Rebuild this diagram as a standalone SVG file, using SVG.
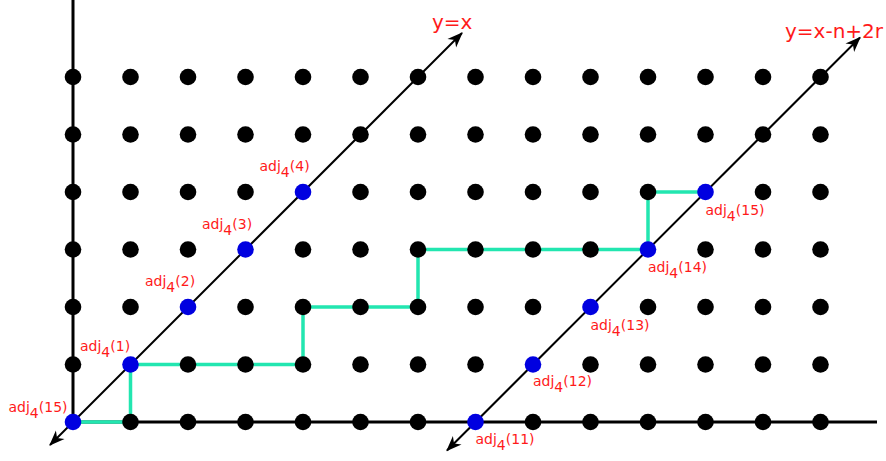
<svg xmlns="http://www.w3.org/2000/svg" width="886" height="461" viewBox="0 0 886 461">
<style>
.ax{stroke:#000;stroke-width:3;fill:none}
.dg{stroke:#000;stroke-width:2;fill:none}
.pth{stroke:#22e6b0;stroke-width:3.5;fill:none}
.d{fill:#000}
.b{fill:#0000e0}
.lb{font-family:"DejaVu Sans",sans-serif;font-size:14px;fill:#ff1a1a}
.tl{font-family:"DejaVu Sans",sans-serif;font-size:20px;fill:#ff1a1a}
</style>
<defs>
<marker id="ah" markerUnits="userSpaceOnUse" markerWidth="20" markerHeight="20" viewBox="-16 -8 18 16" refX="-1" refY="0" orient="auto-start-reverse">
<path d="M0,0 L-14,-5.5 L-10,0 L-14,5.5 z" fill="#000"/>
</marker>
</defs>
<g id="connectors">
<line class="ax" x1="73" y1="0" x2="73" y2="422"/>
<line class="ax" x1="73" y1="422" x2="877" y2="422"/>
<line class="dg" x1="50" y1="445" x2="462" y2="33" marker-start="url(#ah)" marker-end="url(#ah)"/>
<line class="dg" x1="447" y1="450.5" x2="860" y2="37.5" marker-start="url(#ah)" marker-end="url(#ah)"/>
<polyline class="pth" points="73,422 130.5,422 130.5,364.5 303,364.5 303,307 418,307 418,249.5 648,249.5 648,192 705.5,192"/>
</g>
<g id="grid">
<g id="n0_0"><circle class="d" cx="73" cy="77" r="8.3"/></g>
<g id="n1_0"><circle class="d" cx="130.5" cy="77" r="8.3"/></g>
<g id="n2_0"><circle class="d" cx="188" cy="77" r="8.3"/></g>
<g id="n3_0"><circle class="d" cx="245.5" cy="77" r="8.3"/></g>
<g id="n4_0"><circle class="d" cx="303" cy="77" r="8.3"/></g>
<g id="n5_0"><circle class="d" cx="360.5" cy="77" r="8.3"/></g>
<g id="n6_0"><circle class="d" cx="418" cy="77" r="8.3"/></g>
<g id="n7_0"><circle class="d" cx="475.5" cy="77" r="8.3"/></g>
<g id="n8_0"><circle class="d" cx="533" cy="77" r="8.3"/></g>
<g id="n9_0"><circle class="d" cx="590.5" cy="77" r="8.3"/></g>
<g id="n10_0"><circle class="d" cx="648" cy="77" r="8.3"/></g>
<g id="n11_0"><circle class="d" cx="705.5" cy="77" r="8.3"/></g>
<g id="n12_0"><circle class="d" cx="763" cy="77" r="8.3"/></g>
<g id="n13_0"><circle class="d" cx="820.5" cy="77" r="8.3"/></g>
<g id="n0_1"><circle class="d" cx="73" cy="134.5" r="8.3"/></g>
<g id="n1_1"><circle class="d" cx="130.5" cy="134.5" r="8.3"/></g>
<g id="n2_1"><circle class="d" cx="188" cy="134.5" r="8.3"/></g>
<g id="n3_1"><circle class="d" cx="245.5" cy="134.5" r="8.3"/></g>
<g id="n4_1"><circle class="d" cx="303" cy="134.5" r="8.3"/></g>
<g id="n5_1"><circle class="d" cx="360.5" cy="134.5" r="8.3"/></g>
<g id="n6_1"><circle class="d" cx="418" cy="134.5" r="8.3"/></g>
<g id="n7_1"><circle class="d" cx="475.5" cy="134.5" r="8.3"/></g>
<g id="n8_1"><circle class="d" cx="533" cy="134.5" r="8.3"/></g>
<g id="n9_1"><circle class="d" cx="590.5" cy="134.5" r="8.3"/></g>
<g id="n10_1"><circle class="d" cx="648" cy="134.5" r="8.3"/></g>
<g id="n11_1"><circle class="d" cx="705.5" cy="134.5" r="8.3"/></g>
<g id="n12_1"><circle class="d" cx="763" cy="134.5" r="8.3"/></g>
<g id="n13_1"><circle class="d" cx="820.5" cy="134.5" r="8.3"/></g>
<g id="n0_2"><circle class="d" cx="73" cy="192" r="8.3"/></g>
<g id="n1_2"><circle class="d" cx="130.5" cy="192" r="8.3"/></g>
<g id="n2_2"><circle class="d" cx="188" cy="192" r="8.3"/></g>
<g id="n3_2"><circle class="d" cx="245.5" cy="192" r="8.3"/></g>
<g id="n5_2"><circle class="d" cx="360.5" cy="192" r="8.3"/></g>
<g id="n6_2"><circle class="d" cx="418" cy="192" r="8.3"/></g>
<g id="n7_2"><circle class="d" cx="475.5" cy="192" r="8.3"/></g>
<g id="n8_2"><circle class="d" cx="533" cy="192" r="8.3"/></g>
<g id="n9_2"><circle class="d" cx="590.5" cy="192" r="8.3"/></g>
<g id="n10_2"><circle class="d" cx="648" cy="192" r="8.3"/></g>
<g id="n12_2"><circle class="d" cx="763" cy="192" r="8.3"/></g>
<g id="n13_2"><circle class="d" cx="820.5" cy="192" r="8.3"/></g>
<g id="n0_3"><circle class="d" cx="73" cy="249.5" r="8.3"/></g>
<g id="n1_3"><circle class="d" cx="130.5" cy="249.5" r="8.3"/></g>
<g id="n2_3"><circle class="d" cx="188" cy="249.5" r="8.3"/></g>
<g id="n4_3"><circle class="d" cx="303" cy="249.5" r="8.3"/></g>
<g id="n5_3"><circle class="d" cx="360.5" cy="249.5" r="8.3"/></g>
<g id="n6_3"><circle class="d" cx="418" cy="249.5" r="8.3"/></g>
<g id="n7_3"><circle class="d" cx="475.5" cy="249.5" r="8.3"/></g>
<g id="n8_3"><circle class="d" cx="533" cy="249.5" r="8.3"/></g>
<g id="n9_3"><circle class="d" cx="590.5" cy="249.5" r="8.3"/></g>
<g id="n11_3"><circle class="d" cx="705.5" cy="249.5" r="8.3"/></g>
<g id="n12_3"><circle class="d" cx="763" cy="249.5" r="8.3"/></g>
<g id="n13_3"><circle class="d" cx="820.5" cy="249.5" r="8.3"/></g>
<g id="n0_4"><circle class="d" cx="73" cy="307" r="8.3"/></g>
<g id="n1_4"><circle class="d" cx="130.5" cy="307" r="8.3"/></g>
<g id="n3_4"><circle class="d" cx="245.5" cy="307" r="8.3"/></g>
<g id="n4_4"><circle class="d" cx="303" cy="307" r="8.3"/></g>
<g id="n5_4"><circle class="d" cx="360.5" cy="307" r="8.3"/></g>
<g id="n6_4"><circle class="d" cx="418" cy="307" r="8.3"/></g>
<g id="n7_4"><circle class="d" cx="475.5" cy="307" r="8.3"/></g>
<g id="n8_4"><circle class="d" cx="533" cy="307" r="8.3"/></g>
<g id="n10_4"><circle class="d" cx="648" cy="307" r="8.3"/></g>
<g id="n11_4"><circle class="d" cx="705.5" cy="307" r="8.3"/></g>
<g id="n12_4"><circle class="d" cx="763" cy="307" r="8.3"/></g>
<g id="n13_4"><circle class="d" cx="820.5" cy="307" r="8.3"/></g>
<g id="n0_5"><circle class="d" cx="73" cy="364.5" r="8.3"/></g>
<g id="n2_5"><circle class="d" cx="188" cy="364.5" r="8.3"/></g>
<g id="n3_5"><circle class="d" cx="245.5" cy="364.5" r="8.3"/></g>
<g id="n4_5"><circle class="d" cx="303" cy="364.5" r="8.3"/></g>
<g id="n5_5"><circle class="d" cx="360.5" cy="364.5" r="8.3"/></g>
<g id="n6_5"><circle class="d" cx="418" cy="364.5" r="8.3"/></g>
<g id="n7_5"><circle class="d" cx="475.5" cy="364.5" r="8.3"/></g>
<g id="n9_5"><circle class="d" cx="590.5" cy="364.5" r="8.3"/></g>
<g id="n10_5"><circle class="d" cx="648" cy="364.5" r="8.3"/></g>
<g id="n11_5"><circle class="d" cx="705.5" cy="364.5" r="8.3"/></g>
<g id="n12_5"><circle class="d" cx="763" cy="364.5" r="8.3"/></g>
<g id="n13_5"><circle class="d" cx="820.5" cy="364.5" r="8.3"/></g>
<g id="n1_6"><circle class="d" cx="130.5" cy="422" r="8.3"/></g>
<g id="n2_6"><circle class="d" cx="188" cy="422" r="8.3"/></g>
<g id="n3_6"><circle class="d" cx="245.5" cy="422" r="8.3"/></g>
<g id="n4_6"><circle class="d" cx="303" cy="422" r="8.3"/></g>
<g id="n5_6"><circle class="d" cx="360.5" cy="422" r="8.3"/></g>
<g id="n6_6"><circle class="d" cx="418" cy="422" r="8.3"/></g>
<g id="n8_6"><circle class="d" cx="533" cy="422" r="8.3"/></g>
<g id="n9_6"><circle class="d" cx="590.5" cy="422" r="8.3"/></g>
<g id="n10_6"><circle class="d" cx="648" cy="422" r="8.3"/></g>
<g id="n11_6"><circle class="d" cx="705.5" cy="422" r="8.3"/></g>
<g id="n12_6"><circle class="d" cx="763" cy="422" r="8.3"/></g>
<g id="n13_6"><circle class="d" cx="820.5" cy="422" r="8.3"/></g>
</g>
<g id="adj-left-15"><circle class="b" cx="73" cy="422" r="8.3"/><text class="lb" x="8.5" y="411.5">adj<tspan dy="6">4</tspan><tspan dy="-6">(15)</tspan></text></g>
<g id="adj-1"><circle class="b" cx="130.5" cy="364.5" r="8.3"/><text class="lb" x="80" y="351">adj<tspan dy="6">4</tspan><tspan dy="-6">(1)</tspan></text></g>
<g id="adj-2"><circle class="b" cx="188" cy="307" r="8.3"/><text class="lb" x="145" y="285.5">adj<tspan dy="6">4</tspan><tspan dy="-6">(2)</tspan></text></g>
<g id="adj-3"><circle class="b" cx="245.5" cy="249.5" r="8.3"/><text class="lb" x="202" y="228.5">adj<tspan dy="6">4</tspan><tspan dy="-6">(3)</tspan></text></g>
<g id="adj-4"><circle class="b" cx="303" cy="192" r="8.3"/><text class="lb" x="259.5" y="170.5">adj<tspan dy="6">4</tspan><tspan dy="-6">(4)</tspan></text></g>
<g id="adj-11"><circle class="b" cx="475.5" cy="422" r="8.3"/><text class="lb" x="475.5" y="444">adj<tspan dy="6">4</tspan><tspan dy="-6">(11)</tspan></text></g>
<g id="adj-12"><circle class="b" cx="533" cy="364.5" r="8.3"/><text class="lb" x="533" y="386">adj<tspan dy="6">4</tspan><tspan dy="-6">(12)</tspan></text></g>
<g id="adj-13"><circle class="b" cx="590.5" cy="307" r="8.3"/><text class="lb" x="590.5" y="329.5">adj<tspan dy="6">4</tspan><tspan dy="-6">(13)</tspan></text></g>
<g id="adj-14"><circle class="b" cx="648" cy="249.5" r="8.3"/><text class="lb" x="648" y="272">adj<tspan dy="6">4</tspan><tspan dy="-6">(14)</tspan></text></g>
<g id="adj-15"><circle class="b" cx="705.5" cy="192" r="8.3"/><text class="lb" x="705.5" y="215">adj<tspan dy="6">4</tspan><tspan dy="-6">(15)</tspan></text></g>
<g id="label-yx"><text class="tl" x="432" y="28.5">y=x</text></g>
<g id="label-yxn"><text class="tl" x="785" y="37.5">y=x-n+2r</text></g>
</svg>
